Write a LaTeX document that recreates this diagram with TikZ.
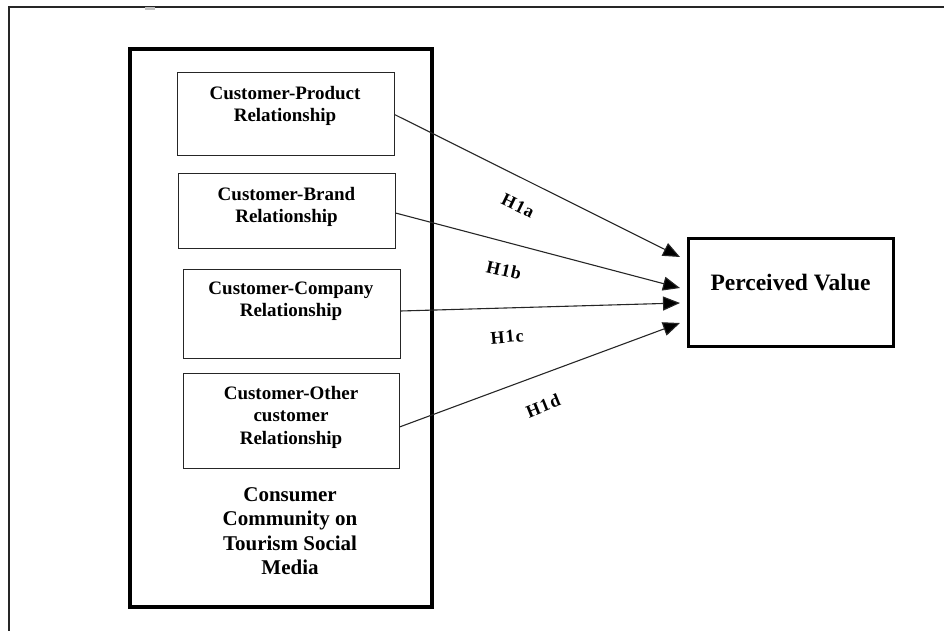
\documentclass[tikz,border=0pt]{standalone}
\usepackage{fontspec}
\setmainfont{Liberation Serif}
\usetikzlibrary{arrows.meta}

\tikzset{
	relbox/.style={draw=black!85, line width=1pt, inner sep=0pt},
	reltext/.style={align=center, font=\fontsize{19}{22.5}\selectfont\bfseries},
	hyp/.style={inner sep=1pt, font=\fontsize{18}{20}\selectfont\bfseries\addfontfeatures{LetterSpace=6}},
	link/.style={-{Triangle[length=17pt,width=14pt,fill=black]}, line width=1.1pt, draw=black!85},
}

\begin{document}
\begin{tikzpicture}[x=1pt,y=-1pt]
	\useasboundingbox (0,0) rectangle (944,631);
	%page frame
	\draw[line width=1.5pt, black!85] (9,631) -- (9,7) -- (944,7);
	\fill[black!25] (145,7) rectangle (155,10);
	
	%community box
	\node[draw, line width=3.5pt, inner sep=0pt, minimum width=302pt, minimum height=558pt] (ccts) at (281,328) {};
	\node[align=center, font=\fontsize{21}{24.5}\selectfont\bfseries] (ccts-label) at (290,531)
		{Consumer\\Community on\\Tourism Social\\Media};
	
	%relationship boxes
	\node[relbox, minimum width=217pt, minimum height=83pt] (cpr) at (285.5,114.5) {};
	\node[relbox, minimum width=217pt, minimum height=74pt] (cbr) at (286.5,211) {};
	\node[relbox, minimum width=217pt, minimum height=89pt] (ccr) at (291.5,313.5) {};
	\node[relbox, minimum width=216pt, minimum height=95pt] (cor) at (291,420.5) {};
	%
	\node[reltext] (cpr-label) at (285,106) {Customer-Product\\Relationship};
	\node[reltext] (cbr-label) at (286.5,207) {Customer-Brand\\Relationship};
	\node[reltext] (ccr-label) at (291,301) {Customer-Company\\Relationship};
	\node[reltext] (cor-label) at (291,417) {Customer-Other\\customer\\Relationship};
	
	%perceived value
	\node[draw, line width=3pt, inner sep=0pt, minimum width=205pt, minimum height=108pt] (pv) at (791,292.5) {};
	\node[font=\fontsize{23.5}{26}\selectfont\bfseries] (pv-label) at (790.5,283) {Perceived Value};
	
	%arrows
	\draw[link] (cpr.east) -- ([xshift=-7pt,yshift=35.5pt]pv.west);
	\draw[link] ([yshift=-2pt]cbr.east) -- ([xshift=-7pt,yshift=4.5pt]pv.west);
	\draw[link] ([yshift=2.5pt]ccr.east) -- ([xshift=-7pt,yshift=-10.5pt]pv.west);
	\draw[link] ([yshift=-6.5pt]cor.east) -- ([xshift=-7pt,yshift=-30.5pt]pv.west);
	
	%hypotheses
	\node[hyp, rotate=-26] (h1a) at (518,206) {H1a};
	\node[hyp, rotate=-13] (h1b) at (504,270) {H1b};
	\node[hyp, rotate=5]   (h1c) at (507,337) {H1c};
	\node[hyp, rotate=22]  (h1d) at (543,406) {H1d};
\end{tikzpicture}
\end{document}
